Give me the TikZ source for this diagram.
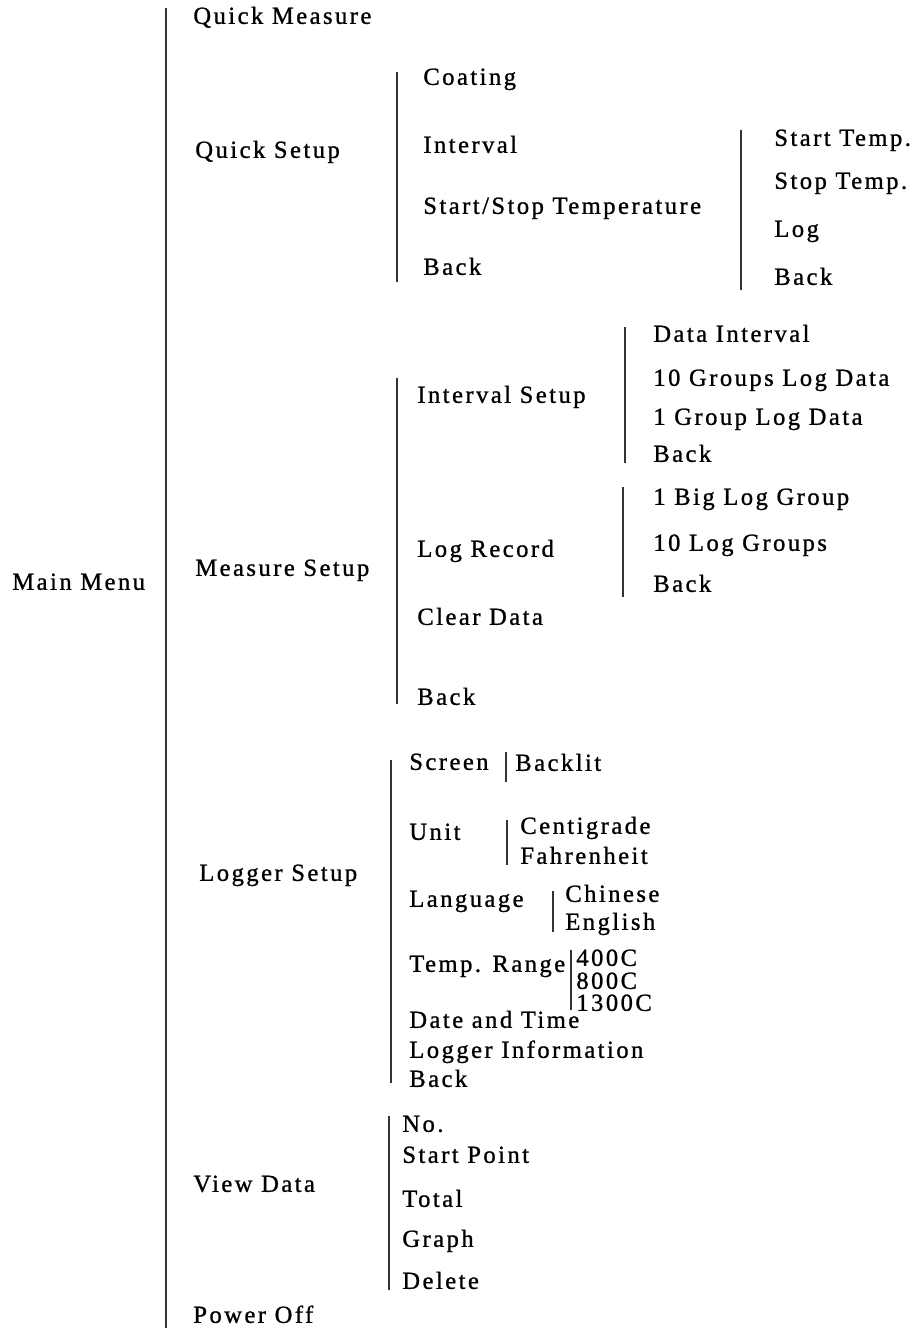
\documentclass[tikz,border=0pt]{standalone}
\usepackage{fontspec}
\setmainfont{Liberation Serif}[LetterSpace = 10, FakeBold = 1]
\usepackage{xcolor}
\usepackage{tikz}

\tikzset{
  item/.style = {anchor = west, inner sep = 0pt, text height = 1.6ex, text depth = 0.4ex,
    font = \fontsize{14}{16}\selectfont},
  tight/.style = {item, text height = 1.45ex, text depth = 0pt},
  bar/.style = {line width = 1pt, black!80}
}

\begin{document}
\begin{tikzpicture}[x = 0.02cm, y = -0.02cm]
    \useasboundingbox (0, 0) rectangle (922, 1331);
    \node[item] (M) at (12, 585) {Main Menu};
    \draw[bar] (166, 8) -- (166, 1328);
    \node[item] (QM) at (193, 19) {Quick Measure};
    \node[item] (QS) at (195, 153) {Quick Setup};
    \node[item] (MS) at (195, 571) {Measure Setup};
    \node[item] (LS) at (199, 876) {Logger Setup};
    \node[item] (VD) at (193, 1187) {View Data};
    \node[item] (PO) at (193, 1318) {Power Off};

    % quick setup
    \draw[bar] (397, 72) -- (397, 282);
    \foreach \y/\t [count = \i] in {80/Coating, 148/Interval, 209/{Start/Stop Temperature}, 270/Back}
      {\node[item] (QS\i) at (423, \y) {\t};}
    \draw[bar] (741, 130) -- (741, 290);
    \foreach \y/\t [count = \i] in {141/Start Temp., 184/Stop Temp., 232/Log, 280/Back}
      {\node[item] (ST\i) at (774, \y) {\t};}

    % measure setup
    \draw[bar] (397, 378) -- (397, 704);
    \foreach \y/\t [count = \i] in {398/Interval Setup, 552/Log Record, 620/Clear Data, 700/Back}
      {\node[item] (MS\i) at (417, \y) {\t};}
    \draw[bar] (625, 327) -- (625, 463);
    \foreach \y/\t [count = \i] in {337/Data Interval, 381/10 Groups Log Data, 420/1 Group Log Data, 457/Back}
      {\node[item] (IS\i) at (653, \y) {\t};}
    \draw[bar] (623, 487) -- (623, 597);
    \foreach \y/\t [count = \i] in {500/1 Big Log Group, 546/10 Log Groups, 587/Back}
      {\node[item] (LR\i) at (653, \y) {\t};}

    % logger setup
    \draw[bar] (391, 760) -- (391, 1083);
    \foreach \y/\t [count = \i] in {765/Screen, 835/Unit, 902/Language, 967/Temp. Range,
        1023/Date and Time, 1053/Logger Information, 1082/Back}
      {\node[item] (LS\i) at (409, \y) {\t};}
    \draw[bar] (506, 752) -- (506, 782);
    \node[item] (BL) at (515, 766) {Backlit};
    \draw[bar] (507, 820) -- (507, 865);
    \node[item] (UN1) at (520, 829) {Centigrade};
    \node[item] (UN2) at (520, 859) {Fahrenheit};
    \draw[bar] (553, 891) -- (553, 932);
    \node[item] (LA1) at (565, 897) {Chinese};
    \node[item] (LA2) at (565, 925) {English};
    \draw[bar] (571, 950) -- (571, 1010);
    \foreach \y/\t [count = \i] in {960/400C, 983/800C, 1005/1300C}
      {\node[tight] (TR\i) at (576, \y) {\t};}

    % view data
    \draw[bar] (389, 1116) -- (389, 1290);
    \foreach \y/\t [count = \i] in {1127/No., 1158/Start Point, 1202/Total, 1242/Graph, 1284/Delete}
      {\node[item] (VD\i) at (402, \y) {\t};}
  \end{tikzpicture}
\end{document}
